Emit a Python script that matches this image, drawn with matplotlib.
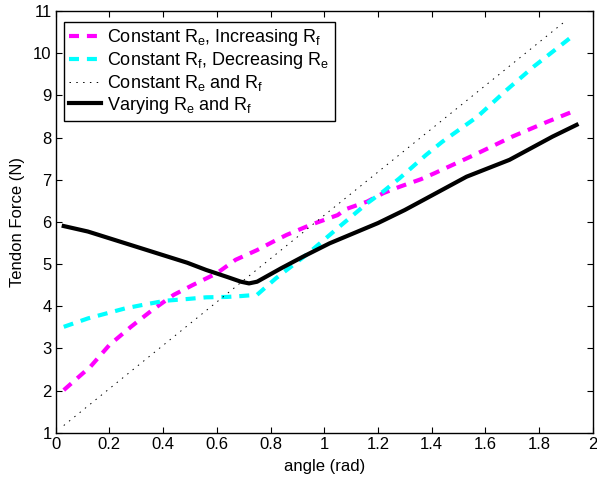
import matplotlib
matplotlib.use("Agg")
import matplotlib.pyplot as plt

plt.rcParams['font.family'] = ['Liberation Sans', 'DejaVu Sans']
plt.rcParams['mathtext.fontset'] = 'custom'
plt.rcParams['mathtext.rm'] = 'Liberation Sans'
plt.rcParams['mathtext.it'] = 'Liberation Sans'
plt.rcParams['font.size'] = 12

# tendon force vs joint angle for the four moment-arm cases
x_inc_rf = [0.03, 0.13, 0.2, 0.28, 0.36, 0.44, 0.51, 0.6, 0.67, 0.75, 0.81, 0.86, 0.95,
            1.05, 1.08, 1.16, 1.22, 1.28, 1.36, 1.41, 1.56, 1.7, 1.83, 1.92]
y_inc_rf = [2.01, 2.57, 3.08, 3.51, 3.91, 4.27, 4.5, 4.78, 5.1, 5.33, 5.53, 5.69, 5.93,
            6.16, 6.3, 6.48, 6.68, 6.83, 7.01, 7.15, 7.59, 8.02, 8.37, 8.6]

x_dec_re = [0.03, 0.12, 0.19, 0.26, 0.34, 0.41, 0.49, 0.56, 0.64, 0.69, 0.75, 0.82,
            0.94, 1.05, 1.16, 1.22, 1.28, 1.38, 1.44, 1.57, 1.68, 1.78, 1.92]
y_dec_re = [3.51, 3.71, 3.83, 3.95, 4.05, 4.13, 4.17, 4.21, 4.22, 4.24, 4.27, 4.66,
            5.25, 5.85, 6.44, 6.72, 7.03, 7.59, 7.9, 8.49, 9.13, 9.68, 10.38]

x_const = [0.03, 0.96, 1.9]
y_const = [1.17, 5.95, 10.77]

x_vary = [0.03, 0.12, 0.19, 0.26, 0.34, 0.41, 0.49, 0.56, 0.64, 0.69, 0.72, 0.75, 0.84,
          0.92, 1.02, 1.11, 1.2, 1.3, 1.37, 1.53, 1.69, 1.85, 1.94]
y_vary = [5.9, 5.77, 5.63, 5.49, 5.33, 5.19, 5.03, 4.86, 4.69, 4.58, 4.54, 4.58, 4.9,
          5.17, 5.49, 5.73, 5.97, 6.28, 6.52, 7.07, 7.47, 8.02, 8.3]

labels = [r'Constant R$_\mathrm{e}$, Increasing R$_\mathrm{f}$',
          r'Constant R$_\mathrm{f}$, Decreasing R$_\mathrm{e}$',
          r'Constant R$_\mathrm{e}$ and R$_\mathrm{f}$',
          r'Varying R$_\mathrm{e}$ and R$_\mathrm{f}$']

fig = plt.figure(figsize=(5.97, 4.78), dpi=100)
ax = fig.add_axes([0.0933, 0.0948, 0.8995, 0.8822])

ax.plot(x_inc_rf, y_inc_rf, color='#ff00ff', lw=3, linestyle=(0, (2.4, 1.9)), label=labels[0])
ax.plot(x_dec_re, y_dec_re, color='#00ffff', lw=3, linestyle=(0, (2.4, 1.9)), label=labels[1])
ax.plot(x_const, y_const, color='black', lw=0.7, linestyle=(0, (1.5, 5.5)), label=labels[2])
ax.plot(x_vary, y_vary, color='black', lw=3, label=labels[3])

ax.set_xlim(0, 2)
ax.set_ylim(1, 11)
ax.set_xticks([0, 0.2, 0.4, 0.6, 0.8, 1, 1.2, 1.4, 1.6, 1.8, 2])
ax.set_xticklabels(['0', '0.2', '0.4', '0.6', '0.8', '1', '1.2', '1.4', '1.6', '1.8', '2'])
ax.set_yticks(range(1, 12))
ax.tick_params(direction='in', top=True, right=True, length=4, width=0.8, pad=3)
for s in ax.spines.values():
    s.set_linewidth(1)

ax.set_xlabel('angle (rad)', labelpad=5)
ax.set_ylabel('Tendon Force (N)', labelpad=6)

leg = ax.legend(loc='upper left', bbox_to_anchor=(0.0155, 0.974), borderaxespad=0,
                fancybox=False, framealpha=1, edgecolor='black', handlelength=1.75,
                handletextpad=0.35, labelspacing=0.1, borderpad=0.3, fontsize=13)
leg.get_frame().set_linewidth(1)

fig.savefig('out.png', dpi=100)
